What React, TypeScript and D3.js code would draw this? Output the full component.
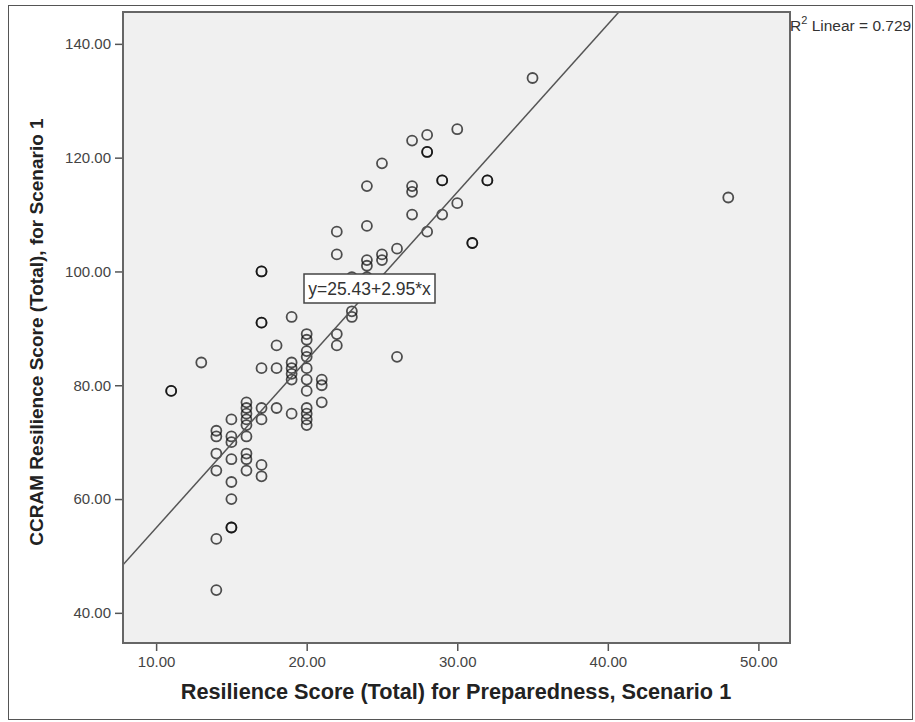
import React, { useEffect, useRef } from "react";
import * as d3 from "d3";

// Preparedness score (x) and CCRAM score (y), one entry per respondent
const preparedness = [
  11, 11, 13,
  14, 14, 14, 14, 14, 14,
  15, 15, 15, 15, 15, 15, 15, 15,
  16, 16, 16, 16, 16, 16, 16, 16, 16,
  17, 17, 17, 17, 17, 17, 17, 17, 17,
  18, 18, 18,
  19, 19, 19, 19, 19, 19,
  20, 20, 20, 20, 20, 20, 20, 20, 20, 20, 20,
  21, 21, 21,
  22, 22, 22, 22,
  23, 23, 23,
  24, 24, 24, 24, 24, 24, 24,
  25, 25, 25,
  26, 26,
  27, 27, 27, 27, 27,
  28, 28, 28, 28,
  29, 29, 29,
  30, 30,
  31, 31,
  32, 32,
  35,
  48,
];
const ccram = [
  79, 79, 84,
  72, 71, 68, 65, 53, 44,
  74, 71, 70, 67, 63, 60, 55, 55,
  77, 76, 75, 74, 73, 71, 68, 67, 65,
  100, 100, 91, 91, 83, 76, 74, 66, 64,
  87, 83, 76,
  92, 84, 83, 82, 81, 75,
  89, 88, 86, 85, 83, 81, 79, 76, 75, 74, 73,
  81, 80, 77,
  107, 103, 89, 87,
  99, 93, 92,
  115, 108, 102, 101, 99, 96, 96,
  119, 103, 102,
  104, 85,
  123, 115, 114, 110, 96,
  124, 121, 121, 107,
  116, 116, 110,
  125, 112,
  105, 105,
  116, 116,
  134,
  113,
];

const xTicks = [10, 20, 30, 40, 50];
const yTicks = [40, 60, 80, 100, 120, 140];

const intercept = 25.43;
const slope = 2.95;
const rSquared = 0.729;

const xTitle = "Resilience Score (Total) for Preparedness, Scenario 1";
const yTitle = "CCRAM Resilience Score (Total), for Scenario 1";

export default function App() {
  const svgRef = useRef<SVGSVGElement>(null);

  useEffect(() => {
    const svg = d3.select(svgRef.current);
    svg.selectAll("*").remove();

    const W = 915;
    const H = 722;
    const plot = { left: 123, right: 790, top: 12, bottom: 643 };
    const font = "Arial, 'Liberation Sans', sans-serif";

    const x = d3.scaleLinear().domain([7.8, 52.1]).range([plot.left, plot.right]);
    const y = d3.scaleLinear().domain([34.7, 145.6]).range([plot.bottom, plot.top]);

    svg.attr("width", W).attr("height", H).attr("viewBox", `0 0 ${W} ${H}`);

    svg.append("rect").attr("width", W).attr("height", H).attr("fill", "#fff");

    // outer frame
    svg.append("rect")
      .attr("x", 8.5).attr("y", 5.5)
      .attr("width", 904).attr("height", 714)
      .attr("fill", "none").attr("stroke", "#555").attr("stroke-width", 1);

    svg.append("defs").append("clipPath").attr("id", "plotclip")
      .append("rect")
      .attr("x", plot.left).attr("y", plot.top)
      .attr("width", plot.right - plot.left).attr("height", plot.bottom - plot.top);

    // plot background
    svg.append("rect")
      .attr("x", plot.left).attr("y", plot.top)
      .attr("width", plot.right - plot.left).attr("height", plot.bottom - plot.top)
      .attr("fill", "#f0f0f0");

    // axes
    const yAxis = svg.append("g")
      .attr("transform", `translate(${plot.left},0)`)
      .call(d3.axisLeft(y).tickValues(yTicks).tickFormat(d3.format(".2f")).tickSize(8).tickSizeOuter(0));
    const xAxis = svg.append("g")
      .attr("transform", `translate(0,${plot.bottom})`)
      .call(d3.axisBottom(x).tickValues(xTicks).tickFormat(d3.format(".2f")).tickSize(8).tickSizeOuter(0));
    [xAxis, yAxis].forEach((a) => {
      a.select(".domain").remove();
      a.selectAll("line").attr("stroke", "#555").attr("stroke-width", 1.5);
      a.selectAll("text")
        .attr("fill", "#444")
        .style("font-family", font)
        .style("font-size", "15px");
    });
    yAxis.selectAll("text").attr("x", -12);
    xAxis.selectAll("text").attr("y", 13);

    // points
    svg.append("g")
      .attr("clip-path", "url(#plotclip)")
      .selectAll("circle")
      .data(d3.range(preparedness.length))
      .join("circle")
      .attr("cx", (i) => x(preparedness[i]))
      .attr("cy", (i) => y(ccram[i]))
      .attr("r", 5)
      .attr("fill", "none")
      .attr("stroke", "#000")
      .attr("stroke-opacity", 0.68)
      .attr("stroke-width", 1.8);

    // fit line
    const fitLine = d3.line<number>()
      .x((v) => x(v))
      .y((v) => y(intercept + slope * v));
    svg.append("path")
      .attr("clip-path", "url(#plotclip)")
      .datum(x.domain())
      .attr("d", fitLine)
      .attr("fill", "none")
      .attr("stroke", "#555")
      .attr("stroke-width", 1.5);

    // plot border
    svg.append("rect")
      .attr("x", plot.left).attr("y", plot.top)
      .attr("width", plot.right - plot.left).attr("height", plot.bottom - plot.top)
      .attr("fill", "none").attr("stroke", "#666").attr("stroke-width", 2);

    // equation label
    const eq = svg.append("g").attr("transform", "translate(304,274)");
    eq.append("rect")
      .attr("width", 131).attr("height", 29)
      .attr("fill", "#fff").attr("stroke", "#444").attr("stroke-width", 1.5);
    eq.append("text")
      .attr("x", 65.5).attr("y", 20.5)
      .attr("text-anchor", "middle")
      .attr("fill", "#333")
      .style("font-family", font)
      .style("font-size", "17.5px")
      .text(`y=${intercept}+${slope}*x`);

    // R squared label
    const r2 = svg.append("text")
      .attr("x", plot.right).attr("y", 31)
      .attr("fill", "#333")
      .style("font-family", font)
      .style("font-size", "15.5px");
    r2.append("tspan").text("R");
    r2.append("tspan").attr("dy", -7).style("font-size", "11px").text("2");
    r2.append("tspan").attr("dy", 7).text(` Linear = ${rSquared}`);

    // axis titles
    svg.append("text")
      .attr("x", 456)
      .attr("y", 699)
      .attr("text-anchor", "middle")
      .attr("fill", "#222")
      .style("font-family", font)
      .style("font-size", "21.7px")
      .style("font-weight", "bold")
      .text(xTitle);

    svg.append("text")
      .attr("transform", `translate(43,332) rotate(-90)`)
      .attr("text-anchor", "middle")
      .attr("fill", "#222")
      .style("font-family", font)
      .style("font-size", "19px")
      .style("font-weight", "bold")
      .text(yTitle);
  }, []);

  return (
    <div style={{ position: "absolute", left: 0, top: 0 }}>
      <svg ref={svgRef} style={{ display: "block" }} />
    </div>
  );
}
